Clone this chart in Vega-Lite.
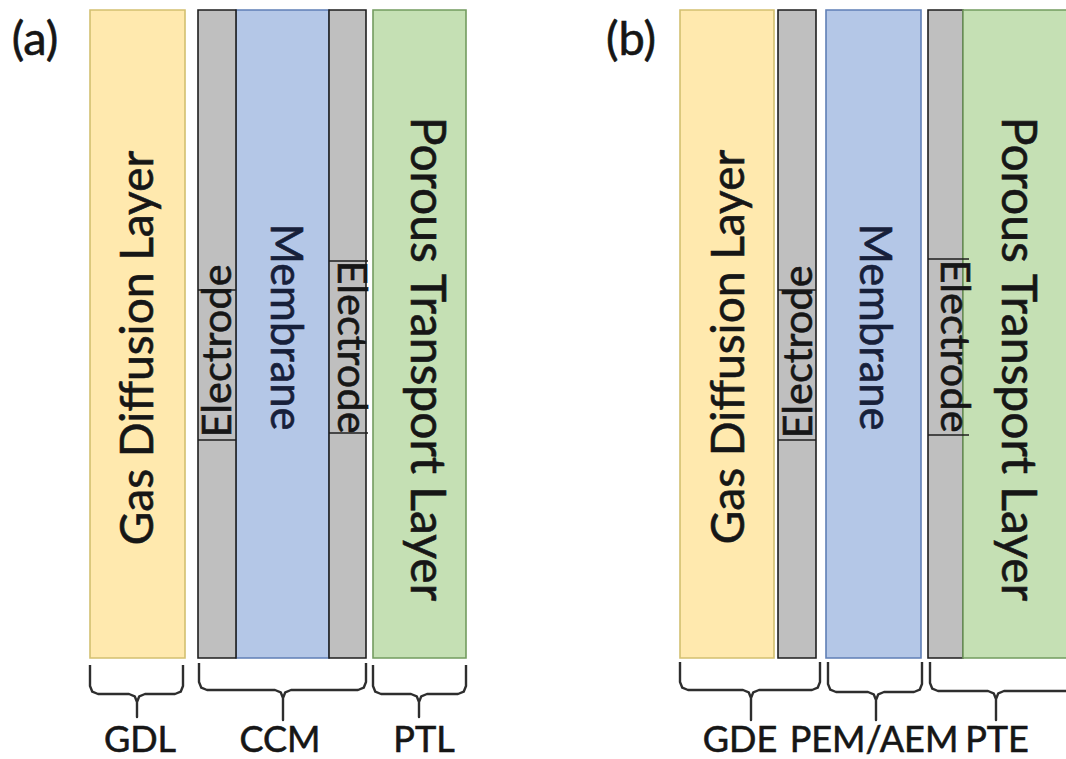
{
  "$schema": "https://vega.github.io/schema/vega-lite/v6.json",
  "width": 1066,
  "height": 759,
  "autosize": {"type": "fit", "contains": "padding"},
  "padding": 0,
  "background": "white",
  "config": {"view": {"stroke": null}, "text": {"font": "Lato", "stroke": "#161616", "strokeWidth": 0.6}},
  "datasets": {
    "rects": [
      {"panel": "a", "kind": "gdl", "x": 90, "x2": 185, "y": 10, "y2": 658},
      {"panel": "a", "kind": "membrane", "x": 236, "x2": 329, "y": 10, "y2": 658},
      {"panel": "a", "kind": "electrode", "x": 198, "x2": 236, "y": 10, "y2": 658},
      {"panel": "a", "kind": "electrode", "x": 329, "x2": 366, "y": 10, "y2": 658},
      {"panel": "a", "kind": "ptl", "x": 373, "x2": 466, "y": 10, "y2": 658},
      {"panel": "b", "kind": "gdl", "x": 680, "x2": 774, "y": 10, "y2": 658},
      {"panel": "b", "kind": "electrode", "x": 778, "x2": 816, "y": 10, "y2": 658},
      {"panel": "b", "kind": "membrane", "x": 826, "x2": 921, "y": 10, "y2": 658},
      {"panel": "b", "kind": "electrode", "x": 928, "x2": 963, "y": 10, "y2": 658},
      {"panel": "b", "kind": "ptl", "x": 963, "x2": 1075, "y": 10, "y2": 658}
    ],
    "boxlines": [
      {"panel": "a", "x": 198, "x2": 236, "y": 290},
      {"panel": "a", "x": 198, "x2": 236, "y": 440},
      {"panel": "a", "x": 329, "x2": 368, "y": 261},
      {"panel": "a", "x": 329, "x2": 368, "y": 433},
      {"panel": "b", "x": 778, "x2": 816, "y": 290},
      {"panel": "b", "x": 778, "x2": 816, "y": 440},
      {"panel": "b", "x": 928, "x2": 969, "y": 259},
      {"panel": "b", "x": 928, "x2": 969, "y": 435}
    ],
    "labels": [
      {"panel": "a", "kind": "layer", "dir": "up", "text": "Gas Diffusion  Layer", "x": 139, "y": 348},
      {"panel": "a", "kind": "electrode", "dir": "up", "text": "Electrode", "x": 219, "y": 351},
      {"panel": "a", "kind": "membrane", "dir": "down", "text": "Membrane", "x": 284, "y": 327},
      {"panel": "a", "kind": "electrode", "dir": "down", "text": "Electrode", "x": 350, "y": 347},
      {"panel": "a", "kind": "ptl", "dir": "down", "text": "Porous Transport Layer", "x": 425, "y": 359},
      {"panel": "b", "kind": "layer", "dir": "up", "text": "Gas Diffusion  Layer", "x": 730, "y": 347},
      {"panel": "b", "kind": "electrode", "dir": "up", "text": "Electrode", "x": 800, "y": 352},
      {"panel": "b", "kind": "membrane", "dir": "down", "text": "Membrane", "x": 873, "y": 327},
      {"panel": "b", "kind": "electrode", "dir": "down", "text": "Electrode", "x": 953, "y": 346},
      {"panel": "b", "kind": "ptl", "dir": "down", "text": "Porous Transport Layer", "x": 1016, "y": 359},
      {"panel": "a", "kind": "tag", "dir": "flat", "text": "GDL", "x": 140, "y": 741},
      {"panel": "a", "kind": "tag", "dir": "flat", "text": "CCM", "x": 280, "y": 741},
      {"panel": "a", "kind": "tag", "dir": "flat", "text": "PTL", "x": 424, "y": 741},
      {"panel": "b", "kind": "tag", "dir": "flat", "text": "GDE", "x": 740, "y": 741},
      {"panel": "b", "kind": "tag", "dir": "flat", "text": "PEM/AEM", "x": 874, "y": 741},
      {"panel": "b", "kind": "tag", "dir": "flat", "text": "PTE", "x": 997, "y": 741},
      {"panel": "a", "kind": "panel", "dir": "flat", "text": "(a)", "x": 35, "y": 41},
      {"panel": "b", "kind": "panel", "dir": "flat", "text": "(b)", "x": 631, "y": 41}
    ],
    "braces": [
      {"brace": "GDL", "i": 1, "x": 90, "y": 665},
      {"brace": "GDL", "i": 2, "x": 90, "y": 686},
      {"brace": "GDL", "i": 3, "x": 92.3, "y": 691.7},
      {"brace": "GDL", "i": 4, "x": 98, "y": 694},
      {"brace": "GDL", "i": 5, "x": 129, "y": 694},
      {"brace": "GDL", "i": 6, "x": 134.7, "y": 696.3},
      {"brace": "GDL", "i": 7, "x": 137, "y": 702},
      {"brace": "GDL", "i": 8, "x": 137, "y": 717},
      {"brace": "GDL", "i": 9, "x": 137, "y": 702},
      {"brace": "GDL", "i": 10, "x": 139.3, "y": 696.3},
      {"brace": "GDL", "i": 11, "x": 145, "y": 694},
      {"brace": "GDL", "i": 12, "x": 175, "y": 694},
      {"brace": "GDL", "i": 13, "x": 180.7, "y": 691.7},
      {"brace": "GDL", "i": 14, "x": 183, "y": 686},
      {"brace": "GDL", "i": 15, "x": 183, "y": 665},
      {"brace": "CCM", "i": 1, "x": 199, "y": 663},
      {"brace": "CCM", "i": 2, "x": 199, "y": 682},
      {"brace": "CCM", "i": 3, "x": 201.3, "y": 687.7},
      {"brace": "CCM", "i": 4, "x": 207, "y": 690},
      {"brace": "CCM", "i": 5, "x": 275, "y": 690},
      {"brace": "CCM", "i": 6, "x": 280.7, "y": 692.3},
      {"brace": "CCM", "i": 7, "x": 283, "y": 698},
      {"brace": "CCM", "i": 8, "x": 283, "y": 720},
      {"brace": "CCM", "i": 9, "x": 283, "y": 698},
      {"brace": "CCM", "i": 10, "x": 285.3, "y": 692.3},
      {"brace": "CCM", "i": 11, "x": 291, "y": 690},
      {"brace": "CCM", "i": 12, "x": 358, "y": 690},
      {"brace": "CCM", "i": 13, "x": 363.7, "y": 687.7},
      {"brace": "CCM", "i": 14, "x": 366, "y": 682},
      {"brace": "CCM", "i": 15, "x": 366, "y": 663},
      {"brace": "PTL", "i": 1, "x": 373, "y": 665},
      {"brace": "PTL", "i": 2, "x": 373, "y": 686},
      {"brace": "PTL", "i": 3, "x": 375.3, "y": 691.7},
      {"brace": "PTL", "i": 4, "x": 381, "y": 694},
      {"brace": "PTL", "i": 5, "x": 411, "y": 694},
      {"brace": "PTL", "i": 6, "x": 416.7, "y": 696.3},
      {"brace": "PTL", "i": 7, "x": 419, "y": 702},
      {"brace": "PTL", "i": 8, "x": 419, "y": 717},
      {"brace": "PTL", "i": 9, "x": 419, "y": 702},
      {"brace": "PTL", "i": 10, "x": 421.3, "y": 696.3},
      {"brace": "PTL", "i": 11, "x": 427, "y": 694},
      {"brace": "PTL", "i": 12, "x": 458, "y": 694},
      {"brace": "PTL", "i": 13, "x": 463.7, "y": 691.7},
      {"brace": "PTL", "i": 14, "x": 466, "y": 686},
      {"brace": "PTL", "i": 15, "x": 466, "y": 665},
      {"brace": "GDE", "i": 1, "x": 680, "y": 662},
      {"brace": "GDE", "i": 2, "x": 680, "y": 682},
      {"brace": "GDE", "i": 3, "x": 682.3, "y": 687.7},
      {"brace": "GDE", "i": 4, "x": 688, "y": 690},
      {"brace": "GDE", "i": 5, "x": 743, "y": 690},
      {"brace": "GDE", "i": 6, "x": 748.7, "y": 692.3},
      {"brace": "GDE", "i": 7, "x": 751, "y": 698},
      {"brace": "GDE", "i": 8, "x": 751, "y": 720},
      {"brace": "GDE", "i": 9, "x": 751, "y": 698},
      {"brace": "GDE", "i": 10, "x": 753.3, "y": 692.3},
      {"brace": "GDE", "i": 11, "x": 759, "y": 690},
      {"brace": "GDE", "i": 12, "x": 812, "y": 690},
      {"brace": "GDE", "i": 13, "x": 817.7, "y": 687.7},
      {"brace": "GDE", "i": 14, "x": 820, "y": 682},
      {"brace": "GDE", "i": 15, "x": 820, "y": 662},
      {"brace": "PEM", "i": 1, "x": 828, "y": 662},
      {"brace": "PEM", "i": 2, "x": 828, "y": 684},
      {"brace": "PEM", "i": 3, "x": 830.3, "y": 689.7},
      {"brace": "PEM", "i": 4, "x": 836, "y": 692},
      {"brace": "PEM", "i": 5, "x": 868, "y": 692},
      {"brace": "PEM", "i": 6, "x": 873.7, "y": 694.3},
      {"brace": "PEM", "i": 7, "x": 876, "y": 700},
      {"brace": "PEM", "i": 8, "x": 876, "y": 720},
      {"brace": "PEM", "i": 9, "x": 876, "y": 700},
      {"brace": "PEM", "i": 10, "x": 878.3, "y": 694.3},
      {"brace": "PEM", "i": 11, "x": 884, "y": 692},
      {"brace": "PEM", "i": 12, "x": 914, "y": 692},
      {"brace": "PEM", "i": 13, "x": 919.7, "y": 689.7},
      {"brace": "PEM", "i": 14, "x": 922, "y": 684},
      {"brace": "PEM", "i": 15, "x": 922, "y": 662},
      {"brace": "PTE", "i": 1, "x": 930, "y": 662},
      {"brace": "PTE", "i": 2, "x": 930, "y": 683},
      {"brace": "PTE", "i": 3, "x": 932.3, "y": 688.7},
      {"brace": "PTE", "i": 4, "x": 938, "y": 691},
      {"brace": "PTE", "i": 5, "x": 988, "y": 691},
      {"brace": "PTE", "i": 6, "x": 993.7, "y": 693.3},
      {"brace": "PTE", "i": 7, "x": 996, "y": 699},
      {"brace": "PTE", "i": 8, "x": 996, "y": 720},
      {"brace": "PTE", "i": 9, "x": 996, "y": 699},
      {"brace": "PTE", "i": 10, "x": 998.3, "y": 693.3},
      {"brace": "PTE", "i": 11, "x": 1004, "y": 691},
      {"brace": "PTE", "i": 12, "x": 1067, "y": 691},
      {"brace": "PTE", "i": 13, "x": 1072.7, "y": 688.7},
      {"brace": "PTE", "i": 14, "x": 1075, "y": 683},
      {"brace": "PTE", "i": 15, "x": 1075, "y": 662}
    ]
  },
  "encoding": {
    "x": {"field": "x", "type": "quantitative", "axis": null,
          "scale": {"domain": [0, 1066], "nice": false, "zero": false}},
    "y": {"field": "y", "type": "quantitative", "axis": null,
          "scale": {"domain": [0, 759], "nice": false, "zero": false, "reverse": true}}
  },
  "layer": [
    {
      "data": {"name": "rects"},
      "mark": {"type": "rect", "strokeWidth": 1.6, "clip": true},
      "encoding": {
        "x2": {"field": "x2"},
        "y2": {"field": "y2"},
        "fill": {"field": "kind", "type": "nominal", "legend": null,
                 "scale": {"domain": ["gdl", "electrode", "membrane", "ptl"],
                           "range": ["#FFE9AE", "#BFBFBF", "#B4C7E7", "#C5E0B4"]}},
        "stroke": {"field": "kind", "type": "nominal", "legend": null,
                   "scale": {"domain": ["gdl", "electrode", "membrane", "ptl"],
                             "range": ["#D3C070", "#1E1E1E", "#5F7FB6", "#739C5F"]}}
      }
    },
    {
      "data": {"name": "boxlines"},
      "mark": {"type": "rule", "color": "#1E1E1E", "strokeWidth": 1.5},
      "encoding": {"x2": {"field": "x2"}}
    },
    {
      "data": {"name": "braces"},
      "mark": {"type": "line", "color": "#2E2E2E", "strokeWidth": 2.4, "strokeJoin": "round", "clip": true},
      "encoding": {
        "detail": {"field": "brace", "type": "nominal"},
        "order": {"field": "i", "type": "quantitative"}
      }
    },
    {
      "data": {"name": "labels"},
      "transform": [{"filter": "datum.kind === 'layer'"}],
      "mark": {"type": "text", "angle": 270, "fontSize": 46, "align": "center", "baseline": "middle", "color": "#161616"},
      "encoding": {"text": {"field": "text"}}
    },
    {
      "data": {"name": "labels"},
      "transform": [{"filter": "datum.kind === 'ptl'"}],
      "mark": {"type": "text", "angle": 90, "fontSize": 48, "align": "center", "baseline": "middle", "color": "#161616"},
      "encoding": {"text": {"field": "text"}}
    },
    {
      "data": {"name": "labels"},
      "transform": [{"filter": "datum.kind === 'electrode' && datum.dir === 'up'"}],
      "mark": {"type": "text", "angle": 270, "fontSize": 41.5, "align": "center", "baseline": "middle", "color": "#161616"},
      "encoding": {"text": {"field": "text"}}
    },
    {
      "data": {"name": "labels"},
      "transform": [{"filter": "datum.kind === 'electrode' && datum.dir === 'down'"}],
      "mark": {"type": "text", "angle": 90, "fontSize": 41.5, "align": "center", "baseline": "middle", "color": "#161616"},
      "encoding": {"text": {"field": "text"}}
    },
    {
      "data": {"name": "labels"},
      "transform": [{"filter": "datum.kind === 'membrane'"}],
      "mark": {"type": "text", "angle": 90, "fontSize": 43.5, "align": "center", "baseline": "middle", "color": "#17203A", "stroke": "#17203A"},
      "encoding": {"text": {"field": "text"}}
    },
    {
      "data": {"name": "labels"},
      "transform": [{"filter": "datum.kind === 'tag'"}],
      "mark": {"type": "text", "fontSize": 36, "align": "center", "baseline": "middle", "color": "#161616"},
      "encoding": {"text": {"field": "text"}}
    },
    {
      "data": {"name": "labels"},
      "transform": [{"filter": "datum.kind === 'panel'"}],
      "mark": {"type": "text", "fontSize": 47, "align": "center", "baseline": "middle", "color": "#161616"},
      "encoding": {"text": {"field": "text"}}
    }
  ]
}
